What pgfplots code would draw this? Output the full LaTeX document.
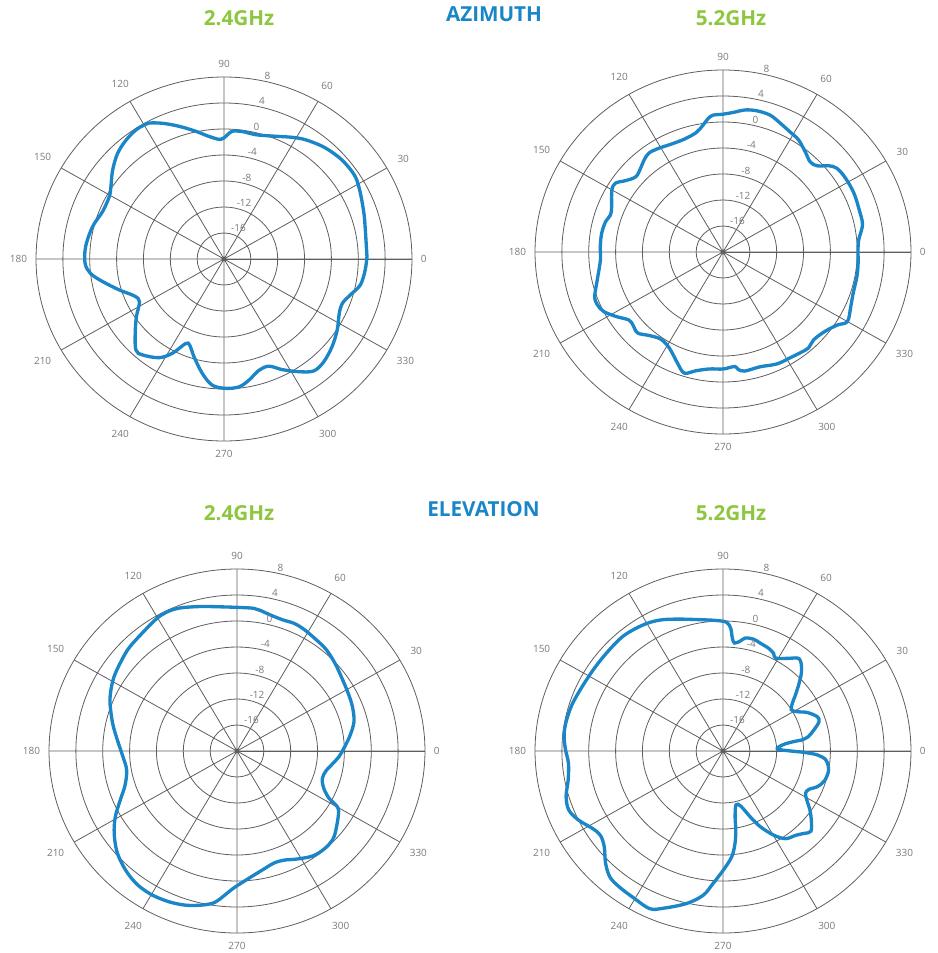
\documentclass[border=0pt]{standalone}
\usepackage{fontspec}
\setmainfont{Open Sans}
\usepackage{pgfplots}
\usepackage{pgfplotstable}
\pgfplotsset{compat=1.18}
\usepgfplotslibrary{polar}
\definecolor{gridc}{HTML}{5E5E5E}
\definecolor{labc}{HTML}{7A7A7A}
\definecolor{curvec}{HTML}{1A86C8}
\definecolor{titgreen}{HTML}{8DC63F}
\definecolor{titblue}{HTML}{1A86C8}
\pgfplotsset{
  myp/.style={
    scale only axis, width=282pt, height=273pt,
    unit vector ratio=1.033 1,
    anchor=center,
    xmin=0, xmax=360, ymin=0, ymax=28,
    xtick={0,30,...,330}, ytick={4,8,...,24}, yticklabels={},
    xticklabel={\pgfmathprintnumber{\tick}},
    /pgf/number format/assume math mode=true,
    grid=major, major grid style={draw=gridc, line width=0.6pt},
    axis line style={draw=gridc, line width=0.6pt},
    major tick length=0pt,
    xticklabel style={font=\fontsize{7.5}{9}\selectfont, text=labc, inner sep=6.5pt},
    clip=false,
  },
  curvest/.style={draw=curvec, line width=2.5pt, smooth, tension=0.55, no marks},
}
\tikzset{ylab/.style={anchor=south west, inner sep=1pt, font=\fontsize{7.5}{9}\selectfont, text=labc},
  tit/.style={anchor=center, inner sep=0pt, font=\fontsize{15.5}{18}\selectfont\bfseries}}
\newcommand{\ylabs}{%
  \node[ylab] at (axis cs:78,4) {-16};
  \node[ylab] at (axis cs:78,8) {-12};
  \node[ylab] at (axis cs:78,12) {-8};
  \node[ylab] at (axis cs:78,16) {-4};
  \node[ylab] at (axis cs:78,20) {0};
  \node[ylab] at (axis cs:78,24) {4};
  \node[ylab] at (axis cs:78,28) {8};
}
\pgfplotstableread{
a d
1.0 1.3
13.3 1.6
18.7 2.0
26.5 2.7
32.9 3.3
39.2 3.3
44 3.1
49.8 2.7
56.5 2.0
61.5 1.3
70.5 0.1
76.2 -0.3
82.1 -0.2
86.4 -0.3
88.5 -0.9
91.5 -1.6
96.8 -1.0
102.1 0.1
108.2 1.5
113.7 2.8
118.1 3.7
120.7 3.8
123.5 3.8
128.6 3.4
134.3 2.7
140.5 1.5
146.5 0.2
150.7 -0.4
158 -0.5
165.7 0.2
174.7 0.7
181.9 0.7
186.4 0.0
190.9 -1.6
197 -3.7
203.1 -5.5
207.5 -5.8
214.3 -4.2
220.9 -2.5
226.9 -0.8
230.6 -0.9
237.5 -2.0
242.1 -3.6
246.3 -5.8
248.9 -5.8
253.5 -4.3
259.6 -2.1
264.9 -0.5
270.7 -0.1
276.5 -0.2
281.3 -1.0
286.9 -2.1
292.1 -2.2
297 -0.9
302.7 0.6
307.8 1.8
313.2 1.7
320 1.0
327 0.1
334 -0.9
338.8 -1.1
343.6 -0.4
348.9 0.7
355.4 1.1
361.0 1.3
}\azA
\pgfplotstableread{
a d
0 0.1
5.3 0.3
11.4 1.2
17.7 1.3
24.9 1.5
31.9 1.5
37.2 1.3
40.1 0.6
43.4 -0.7
46.9 -1.0
51.6 -0.3
56.9 0.6
61.6 1.0
66.9 1.6
71.6 2.2
77 2.3
81.5 2.1
85.3 1.6
90 1.2
94.1 1.1
96.3 0.6
98.8 -0.3
102.3 -1.2
108.3 -1.7
115 -1.7
120.8 -1.4
125.9 -1.2
129.7 -1.6
133.6 -2.2
138.3 -2.6
142.9 -1.8
146.5 -0.8
150.1 -0.9
157.2 -2.0
161.2 -2.3
165 -1.9
170.9 -1.7
177.4 -1.7
183.8 -1.7
192.8 -0.8
199.7 0.3
203.4 0.4
207.2 0.0
211.8 -1.2
216.7 -2.5
219.9 -2.5
224.4 -2.2
229.5 -3.1
235.4 -3.7
241.6 -3.2
248.4 -1.6
252.8 -0.5
257.6 -1.3
263.7 -1.9
270 -2.0
275.7 -2.3
277.1 -1.8
280 -1.4
287.3 -1.5
295 -1.0
301.5 -0.9
306.5 -0.7
310.8 -0.5
315 -0.9
321.3 -0.5
326.6 0.4
330 1.4
336.2 0.8
341.9 0.4
349.3 0.3
355.1 0.2
360 0.1
}\azB
\pgfplotstableread{
a d
0 -4.3
7.4 -3.1
14.5 -2.0
21.7 -1.5
28.3 -1.2
36.5 -0.7
43 -0.1
49.6 0.5
55.5 0.8
61.8 1.2
66.5 1.4
71.4 1.3
76.5 1.5
80.8 1.9
83.5 2.1
90 2.1
97.7 2.4
103.9 2.9
111.2 3.6
116.3 3.8
120.7 3.6
127.7 3.0
135.3 2.6
141.4 2.1
147.9 1.6
153.4 1.0
158.7 0.3
167.1 -1.0
174.6 -2.1
183.1 -3.0
190.2 -3.3
197.6 -2.5
203.6 -1.0
209.3 0.8
214.9 2.3
220.6 3.6
225.5 4.4
230.2 5.0
235 5.4
240.6 5.5
246.6 5.3
252.4 4.9
258.1 4.2
262 3.5
264.9 2.4
268.6 1.1
274.4 -0.2
280.8 -1.2
287.7 -1.9
292.7 -1.8
298.5 -1.1
305 -0.3
310.8 -0.1
316.5 -0.3
321.6 -1.1
328.8 -2.3
330.8 -3.3
331.9 -4.4
335.8 -5.8
341.4 -6.6
347 -6.4
352.3 -5.6
356.6 -4.8
360 -4.3
}\elA
\pgfplotstableread{
a d
8.2 -8.1
9.9 -7.1
13.4 -6.1
17.5 -5.0
20.6 -5.0
25.2 -6.1
28.7 -7.4
31.9 -8.0
35.5 -7.3
38.6 -6.2
42.6 -4.6
46.2 -3.1
50 -2.0
52.2 -1.9
55.5 -2.7
61.3 -3.7
63.3 -3.2
66.7 -2.8
71.5 -2.5
75.2 -2.2
79.2 -2.3
81.4 -2.9
84.1 -3.3
85.4 -2.6
86.5 -1.1
88.4 -0.2
92.7 0.1
99.7 0.5
107.7 1.3
113.9 2.1
119 2.6
124.5 2.9
130.4 3.1
137.5 3.0
145.6 3.0
154.7 3.2
162.5 3.6
169.1 3.8
174 3.8
179 3.5
184.7 3.1
191 3.5
196.7 4.4
201.6 4.7
206.3 4.0
211.5 2.8
215.4 2.4
219.7 3.0
224.7 4.6
229.1 5.7
233.5 6.0
239 6.2
245.7 6.6
249.7 5.8
256.9 4.1
262.4 2.4
265.9 0.4
270.2 -1.7
274.6 -3.7
277.2 -5.7
278.9 -7.7
280.1 -9.7
283.2 -11.5
287.4 -11.1
291.8 -9.1
295.5 -7.1
300.3 -5.0
304.7 -3.6
309.9 -3.1
313.6 -2.5
316.7 -2.0
321.1 -3.1
325 -4.2
328.8 -5.4
332.1 -6.1
335.3 -5.9
338.7 -4.9
343.2 -4.2
349.4 -4.0
354.8 -4.6
357.5 -5.9
359 -7.9
360 -9.9
362.2 -11.9
366 -11.1
367.6 -9.8
368.2 -8.1
}\elB
\begin{document}
\begin{tikzpicture}
\useasboundingbox (0,0) rectangle (703.5pt,-714.75pt);
\node[tit, text=titgreen] at (179.25pt,-13.9pt) {2.4GHz};
\node[tit, text=titblue] at (370.5pt,-10.5pt) {AZIMUTH};
\node[tit, text=titgreen] at (548.25pt,-13.5pt) {5.2GHz};
\node[tit, text=titgreen] at (179.25pt,-384.75pt) {2.4GHz};
\node[tit, text=titblue] at (362.6pt,-381.75pt) {ELEVATION};
\node[tit, text=titgreen] at (548.25pt,-384.75pt) {5.2GHz};
\begin{polaraxis}[myp, at={(168pt,-194.25pt)}]
\addplot[curvest] table[x=a, y expr=\thisrow{d}+20] {\azA};
\ylabs
\end{polaraxis}
\begin{polaraxis}[myp, at={(542.25pt,-189pt)}]
\addplot[curvest] table[x=a, y expr=\thisrow{d}+20] {\azB};
\ylabs
\end{polaraxis}
\begin{polaraxis}[myp, at={(177.75pt,-563.25pt)}]
\addplot[curvest] table[x=a, y expr=\thisrow{d}+20] {\elA};
\ylabs
\end{polaraxis}
\begin{polaraxis}[myp, at={(542.25pt,-563.25pt)}]
\addplot[curvest] table[x=a, y expr=\thisrow{d}+20] {\elB};
\ylabs
\end{polaraxis}
\end{tikzpicture}
\end{document}
